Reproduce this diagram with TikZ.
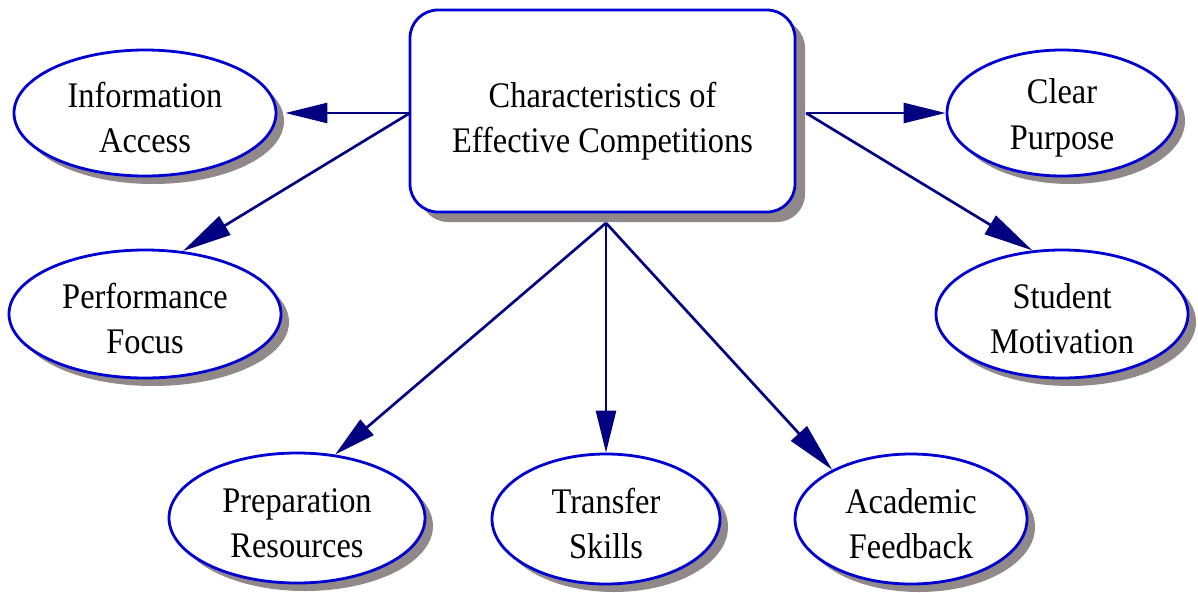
\documentclass[tikz,border=0pt]{standalone}
\usepackage{fontspec}
\setmainfont{Liberation Serif}[FakeStretch=0.9]
\usetikzlibrary{shapes.geometric,arrows.meta,shadows}
\definecolor{bord}{RGB}{0,0,210}
\definecolor{edgec}{RGB}{0,0,128}
\definecolor{shad}{RGB}{145,137,137}
\newcommand{\topstrut}[1]{\rule{0pt}{#1}}
\tikzset{
  lbl/.style={font=\fontsize{27}{34}\selectfont, align=center},
  oval/.style={ellipse, draw=bord, line width=2.1pt, fill=white, inner sep=0pt, lbl,
    drop shadow={shadow xshift=6pt, shadow yshift=-6pt, fill=shad, opacity=1}},
  mainbox/.style={rectangle, rounded corners=21pt, draw=bord, line width=2.1pt, fill=white,
    minimum width=288.75pt, minimum height=151.5pt, inner sep=0pt, lbl,
    drop shadow={shadow xshift=7.5pt, shadow yshift=-7.5pt, fill=shad, opacity=1}},
  link/.style={draw=edgec, line width=2pt, -{Triangle[length=31.5pt,width=15pt]}},
  longlink/.style={draw=edgec, line width=2pt, -{Triangle[length=37pt,width=16pt]}}
}
\begin{document}
\begin{tikzpicture}[x=0.75pt,y=-0.75pt]
\useasboundingbox (0,0) rectangle (1198,592);
\node[mainbox] (box) at (602.5,111) {\topstrut{34pt}Characteristics of\\Effective Competitions};
\node[oval, minimum width=196.5pt, minimum height=94.5pt] (info) at (145,113) {\topstrut{26pt}Information\\Access};
\node[oval, minimum width=204pt, minimum height=96pt] (perf) at (145,314) {\topstrut{26pt}Performance\\Focus};
\node[oval, minimum width=192pt, minimum height=97.5pt] (prep) at (297,518) {\topstrut{26pt}Preparation\\Resources};
\node[oval, minimum width=171pt, minimum height=97.5pt] (trans) at (606,519) {\topstrut{26pt}Transfer\\Skills};
\node[oval, minimum width=174pt, minimum height=97.5pt] (acad) at (911,519) {\topstrut{26pt}Academic\\Feedback};
\node[oval, minimum width=172.5pt, minimum height=94.5pt] (clear) at (1062,113) {\topstrut{26pt}Clear\\Purpose};
\node[oval, minimum width=189pt, minimum height=96pt] (stud) at (1062,314) {\topstrut{26pt}Student\\Motivation};
\coordinate (bL) at (410,113);
\coordinate (bR) at (806,113);
\coordinate (bB) at (606,223);
\draw[link] (bL) -- ([xshift=6pt]info.east);
\draw[longlink] (bL) -- (perf.59);
\draw[link] (bR) -- (clear.west);
\draw[longlink] (bR) -- (stud.115);
\draw[link] (bB) -- (prep.59);
\draw[link] (bB) -- (trans.north);
\draw[longlink] (bB) -- (acad.148);
\end{tikzpicture}
\end{document}
